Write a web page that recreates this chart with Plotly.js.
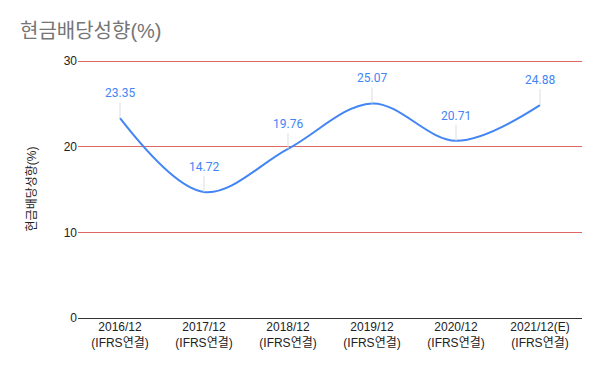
<!DOCTYPE html>
<html>
<head>
<meta charset="utf-8">
<script src="https://cdn.plot.ly/plotly-3.0.1.min.js"></script>
<style>html,body{margin:0;padding:0;background:#fff;}#chart{width:600px;height:371px;}</style>
</head>
<body>
<div id="chart"></div>
<script>
const categories = ["2016/12<br>(IFRS연결)", "2017/12<br>(IFRS연결)", "2018/12<br>(IFRS연결)", "2019/12<br>(IFRS연결)", "2020/12<br>(IFRS연결)", "2021/12(E)<br>(IFRS연결)"];
const payoutRatio = [23.35, 14.72, 19.76, 25.07, 20.71, 24.88];
const yTicks = [0, 10, 20, 30];

const FONT = "Arial, 'Liberation Sans', 'Noto Sans CJK KR', sans-serif";

const trace = {
  type: "scatter",
  mode: "lines",
  x: categories,
  y: payoutRatio,
  line: {color: "#4285f4", width: 2, shape: "spline", smoothing: 1},
  hoverinfo: "skip"
};

const annotations = categories.map((c, i) => ({
  x: c, y: payoutRatio[i], xref: "x", yref: "y",
  text: payoutRatio[i].toFixed(2),
  showarrow: true, arrowhead: 0, arrowwidth: 1, arrowcolor: "#dddddd",
  ax: 0, ay: -16, standoff: 0,
  yanchor: "bottom",
  font: {family: "Roboto, " + FONT, size: 12, color: "#4285f4"}
}));

const layout = {
  width: 600, height: 371,
  margin: {l: 78, r: 18, t: 60, b: 53},
  paper_bgcolor: "#fff", plot_bgcolor: "#fff",
  showlegend: false,
  font: {family: FONT, size: 12, color: "#222"},
  title: {
    text: "현금배당성향(%)",
    xref: "container", yref: "container",
    x: 20/600, xanchor: "left",
    y: 1 - 31/371, yanchor: "middle",
    font: {family: FONT, size: 20, color: "#757575"}
  },
  xaxis: {
    type: "category",
    range: [-0.5, 5.5],
    showgrid: false, zeroline: false, showline: false,
    ticks: "", tickfont: {family: FONT, size: 12, color: "#222"}
  },
  yaxis: {
    range: [0, 30.15],
    tickvals: yTicks,
    ticktext: yTicks.map(String),
    showgrid: true, gridcolor: "#e06666", gridwidth: 1,
    zeroline: true, zerolinecolor: "#333333", zerolinewidth: 1,
    showline: false, ticks: "",
    tickfont: {family: FONT, size: 12, color: "#222"},
    title: {text: "현금배당성향(%)", font: {family: FONT, size: 12, color: "#222"}, standoff: 24}
  },
  annotations: annotations
};

Plotly.newPlot("chart", [trace], layout, {displayModeBar: false, staticPlot: true});
</script>
</body>
</html>
